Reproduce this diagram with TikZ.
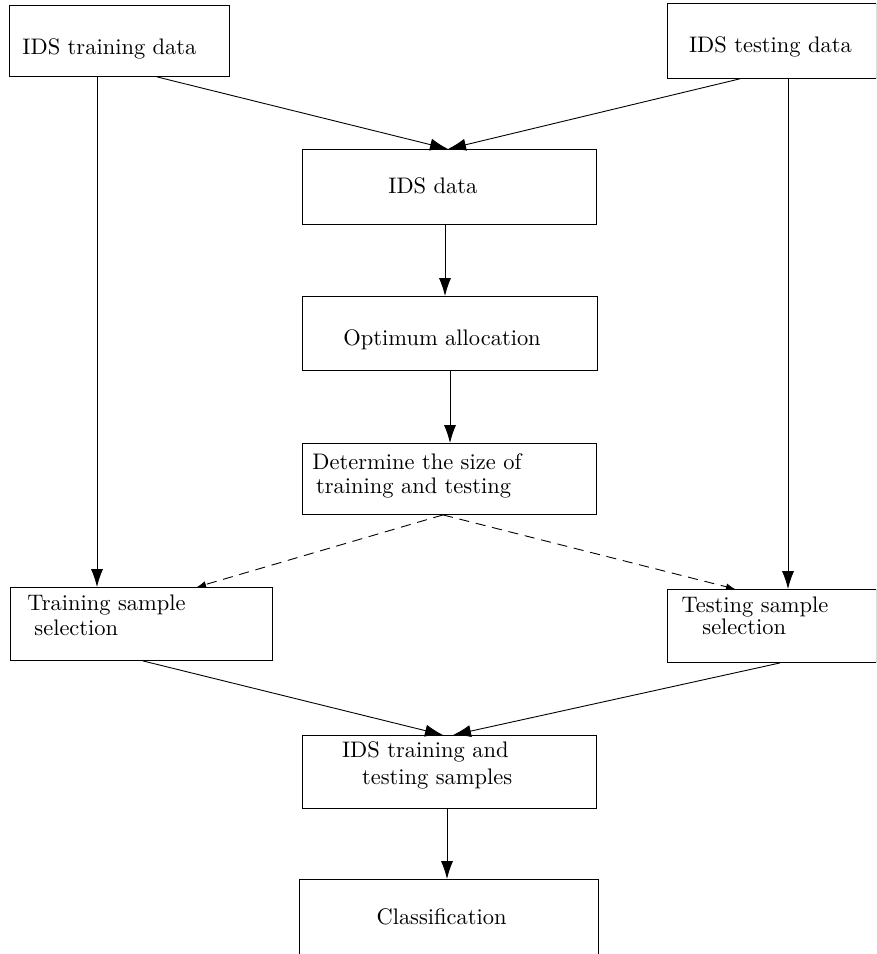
\documentclass[tikz,border=0pt]{standalone}
\usepackage{tikz}
\usetikzlibrary{arrows.meta,calc}
\tikzset{
	->, % all connectors are directed
	>={Latex[length=8pt,width=5.4pt]}, % filled heads
	thin,
	box/.style={draw, rectangle, anchor=north west, inner sep=0pt, align=left},
	dashedarrow/.style={dash pattern=on 4.5pt off 3pt, -{Latex[length=4pt,width=3pt]}},
}
\begin{document}
\begin{tikzpicture}[x=0.445pt, y=-0.445pt]
	\clip (0,0) rectangle (876,954);

	\node[box, minimum width=97.9pt, text width=86.3pt, text height=21.9pt, text depth=9.7pt] (trdata) at (9,5) {IDS training data};
	\node[box, minimum width=92.8pt, text width=73.6pt, text height=21.8pt, text depth=11.4pt] (tedata) at (667,3.3) {IDS testing data};
	\node[box, minimum width=130.8pt, text width=54.3pt, text height=19.6pt, text depth=13.8pt] (idsdata) at (302,149) {IDS data};
	\node[box, minimum width=131.3pt, text width=94.8pt, text height=21.8pt, text depth=11.1pt] (optalloc) at (302,296) {Optimum allocation};
	\node[box, minimum width=130.8pt, text width=121.9pt, text height=11.6pt, text depth=20pt] (detsize) at (302,443) {Determine the size of\\[-1.3pt]\hspace*{1.6pt}training and testing};
	\node[box, minimum width=116.8pt, text width=101.2pt, text height=10.2pt, text depth=22.3pt] (trsample) at (9.5,587) {Training sample\\[-0.6pt]\hspace*{3.1pt}selection};
	\node[box, minimum width=92.8pt, text width=80.3pt, text height=10.1pt, text depth=22.4pt] (tesample) at (667,589) {Testing sample\\[-1.9pt]\hspace*{9.3pt}selection};
	\node[box, minimum width=130.8pt, text width=95.5pt, text height=9.7pt, text depth=22.8pt] (trtesample) at (302,735) {IDS training and\\[0.2pt]\hspace*{8.9pt}testing samples};
	\node[box, minimum width=133.1pt, text width=64.5pt, text height=20pt, text depth=14.2pt] (classif) at (299,879) {Classification};

	\path	($(trdata.south west)+(148,0)$) edge ($(idsdata.north west)+(146,0)$)
			($(tedata.south west)+(73,0)$) edge ($(idsdata.north west)+(146,0)$)
			($(trdata.south west)+(88,0)$) edge ($(trsample.north west)+(87.5,0)$)
			($(tedata.south west)+(121,0)$) edge ($(tesample.north west)+(121,0)$)
			($(idsdata.south west)+(143,0)$) edge ($(optalloc.north west)+(143,0)$)
			($(optalloc.south west)+(148,0)$) edge ($(detsize.north west)+(148,0)$)
			($(detsize.south west)+(141,0)$) edge[dashedarrow] ($(trsample.north west)+(187.5,0)$)
			($(detsize.south west)+(141,0)$) edge[dashedarrow] ($(tesample.north west)+(68,0)$)
			($(trsample.south west)+(133.5,0)$) edge ($(trtesample.north west)+(141,0)$)
			($(tesample.south west)+(113,0)$) edge ($(trtesample.north west)+(151,0)$)
			($(trtesample.south west)+(145,0)$) edge ($(classif.north west)+(148,0)$);
\end{tikzpicture}
\end{document}
